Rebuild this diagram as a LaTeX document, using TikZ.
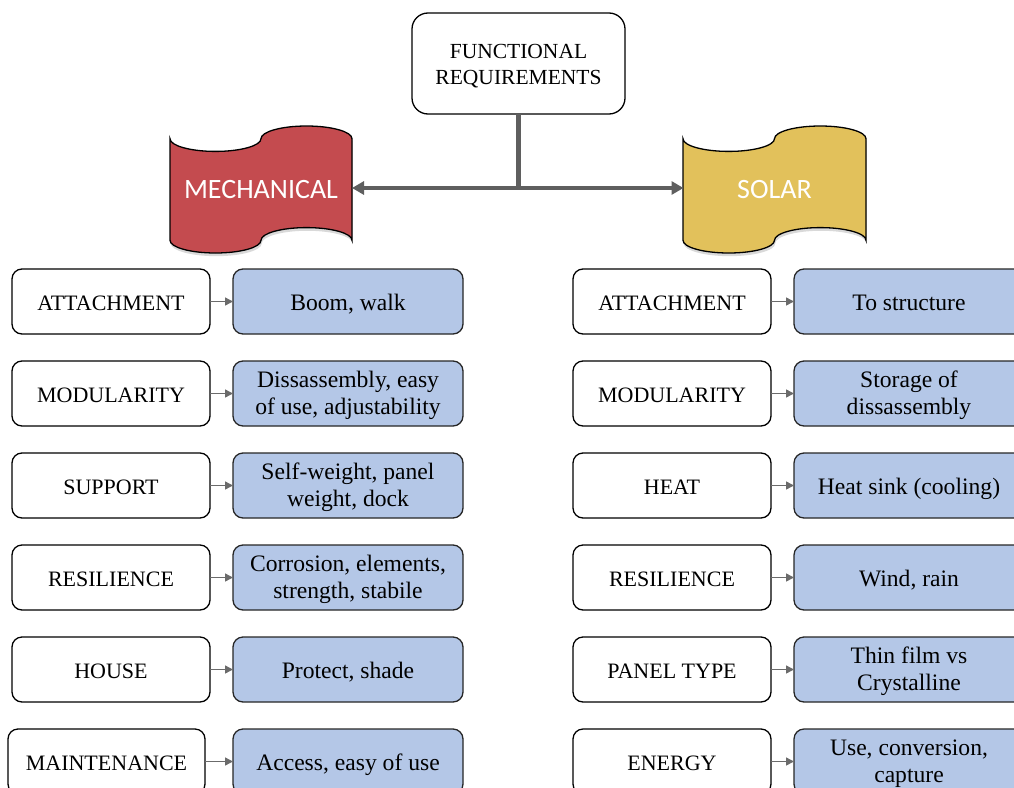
\documentclass[tikz,border=0pt]{standalone}
\usepackage{fontspec}
\setmainfont{Liberation Serif}
\newfontfamily\bannerfont{Carlito}
\usetikzlibrary{arrows.meta,calc}
\definecolor{mechred}{HTML}{C44B4F}
\definecolor{solaryel}{HTML}{E2C15B}
\definecolor{boxblue}{HTML}{B4C7E7}
\definecolor{linegray}{HTML}{5F5F5F}
\definecolor{arrgray}{HTML}{6B6B6B}
\tikzset{
  catbox/.style={draw=black, line width=1.3pt, rounded corners=10pt, fill=white,
    minimum width=198pt, minimum height=65pt, inner sep=0pt, outer sep=0pt,
    align=center, font=\fontsize{22}{26}\selectfont, text height=18pt, text depth=0pt},
  descbox/.style={draw=black!85, line width=1.3pt, rounded corners=10pt, fill=boxblue,
    minimum width=230pt, minimum height=65pt, inner sep=0pt, outer sep=0pt,
    align=center, font=\fontsize{23.6}{27}\selectfont, text height=18pt, text depth=0pt},
  twoline/.style={text height=42pt, text depth=0pt},
  topbox/.style={draw=black, line width=1.3pt, rounded corners=16pt, fill=white,
    minimum width=213pt, minimum height=101pt, inner sep=0pt, outer sep=0pt,
    align=center, font=\fontsize{21.5}{26}\selectfont, text height=42pt, text depth=0pt},
  bannertext/.style={minimum width=182pt, minimum height=127pt, inner sep=0pt, outer sep=0pt,
    text=white, font=\bannerfont\fontsize{28}{32}\selectfont},
  bannershape/.style={draw=black, line width=1.3pt},
  mainline/.style={draw=linegray, line width=4.5pt},
  mainarrow/.style={mainline, -{Triangle[length=12pt,width=13pt]}},
  smallarrow/.style={draw=arrgray, line width=1.5pt, -{Triangle[length=8pt,width=8pt]}},
}
\newcommand{\bannerpath}{(0,0.1) .. controls (0,0.1552) and (0.112,0.2) .. (0.25,0.2)
  .. controls (0.388,0.2) and (0.5,0.1552) .. (0.5,0.1)
  .. controls (0.5,0.0448) and (0.612,0) .. (0.75,0)
  .. controls (0.888,0) and (1,0.0448) .. (1,0.1)
  -- (1,0.9)
  .. controls (1,0.8448) and (0.888,0.8) .. (0.75,0.8)
  .. controls (0.612,0.8) and (0.5,0.8448) .. (0.5,0.9)
  .. controls (0.5,0.9552) and (0.388,1) .. (0.25,1)
  .. controls (0.112,1) and (0,0.9552) .. (0,0.9) -- cycle}
\begin{document}
\begin{tikzpicture}[x=1pt,y=-1pt]
\useasboundingbox (0,0) rectangle (1014,787);
% banners
\begin{scope}[shift={(170,126)},xscale=182,yscale=127]
  \fill[black!15] [shift={(0.004,0.025)}] \bannerpath;
  \path[bannershape,fill=mechred] \bannerpath;
\end{scope}
\begin{scope}[shift={(683,126)},xscale=183,yscale=127]
  \fill[black!15] [shift={(0.004,0.025)}] \bannerpath;
  \path[bannershape,fill=solaryel] \bannerpath;
\end{scope}
\node[bannertext] (mech) at (261,190) {MECHANICAL};
\node[bannertext] (solar) at (774.5,190) {SOLAR};
% top
\node[topbox] (fr) at (518.5,63.5) {FUNCTIONAL\\REQUIREMENTS};
\coordinate (hj) at (518.5,188);
\draw[mainline] (fr.south) -- (hj);
\draw[mainarrow] (hj) -- (hj -| mech.east);
\draw[mainarrow] (hj) -- (hj -| solar.west);
% left column
\node[catbox] (l1) at (111,301.5) {ATTACHMENT};
\node[catbox] (l2) at (111,393.5) {MODULARITY};
\node[catbox] (l3) at (111,485.5) {SUPPORT};
\node[catbox] (l4) at (111,577.5) {RESILIENCE};
\node[catbox] (l5) at (111,669.5) {HOUSE};
\node[catbox, minimum width=197pt] (l6) at (106.5,761.5) {MAINTENANCE};
\node[descbox] (ld1) at (348,301.5) {Boom, walk};
\node[descbox,twoline] (ld2) at (348,393.5) {Dissassembly, easy\\of use, adjustability};
\node[descbox,twoline] (ld3) at (348,485.5) {Self-weight, panel\\weight, dock};
\node[descbox,twoline] (ld4) at (348,577.5) {Corrosion, elements,\\strength, stabile};
\node[descbox] (ld5) at (348,669.5) {Protect, shade};
\node[descbox] (ld6) at (348,761.5) {Access, easy of use};
% right column
\node[catbox] (r1) at (672,301.5) {ATTACHMENT};
\node[catbox] (r2) at (672,393.5) {MODULARITY};
\node[catbox] (r3) at (672,485.5) {HEAT};
\node[catbox] (r4) at (672,577.5) {RESILIENCE};
\node[catbox] (r5) at (672,669.5) {PANEL TYPE};
\node[catbox] (r6) at (672,761.5) {ENERGY};
\node[descbox] (rd1) at (909,301.5) {To structure};
\node[descbox,twoline] (rd2) at (909,393.5) {Storage of\\dissassembly};
\node[descbox] (rd3) at (909,485.5) {Heat sink (cooling)};
\node[descbox] (rd4) at (909,577.5) {Wind, rain};
\node[descbox,twoline] (rd5) at (909,669.5) {Thin film vs\\Crystalline};
\node[descbox,twoline] (rd6) at (909,761.5) {Use, conversion,\\capture};
% small arrows
\foreach \i in {1,...,6}{
  \draw[smallarrow] (l\i.east) -- (ld\i.west);
  \draw[smallarrow] (r\i.east) -- (rd\i.west);
}
\end{tikzpicture}
\end{document}
